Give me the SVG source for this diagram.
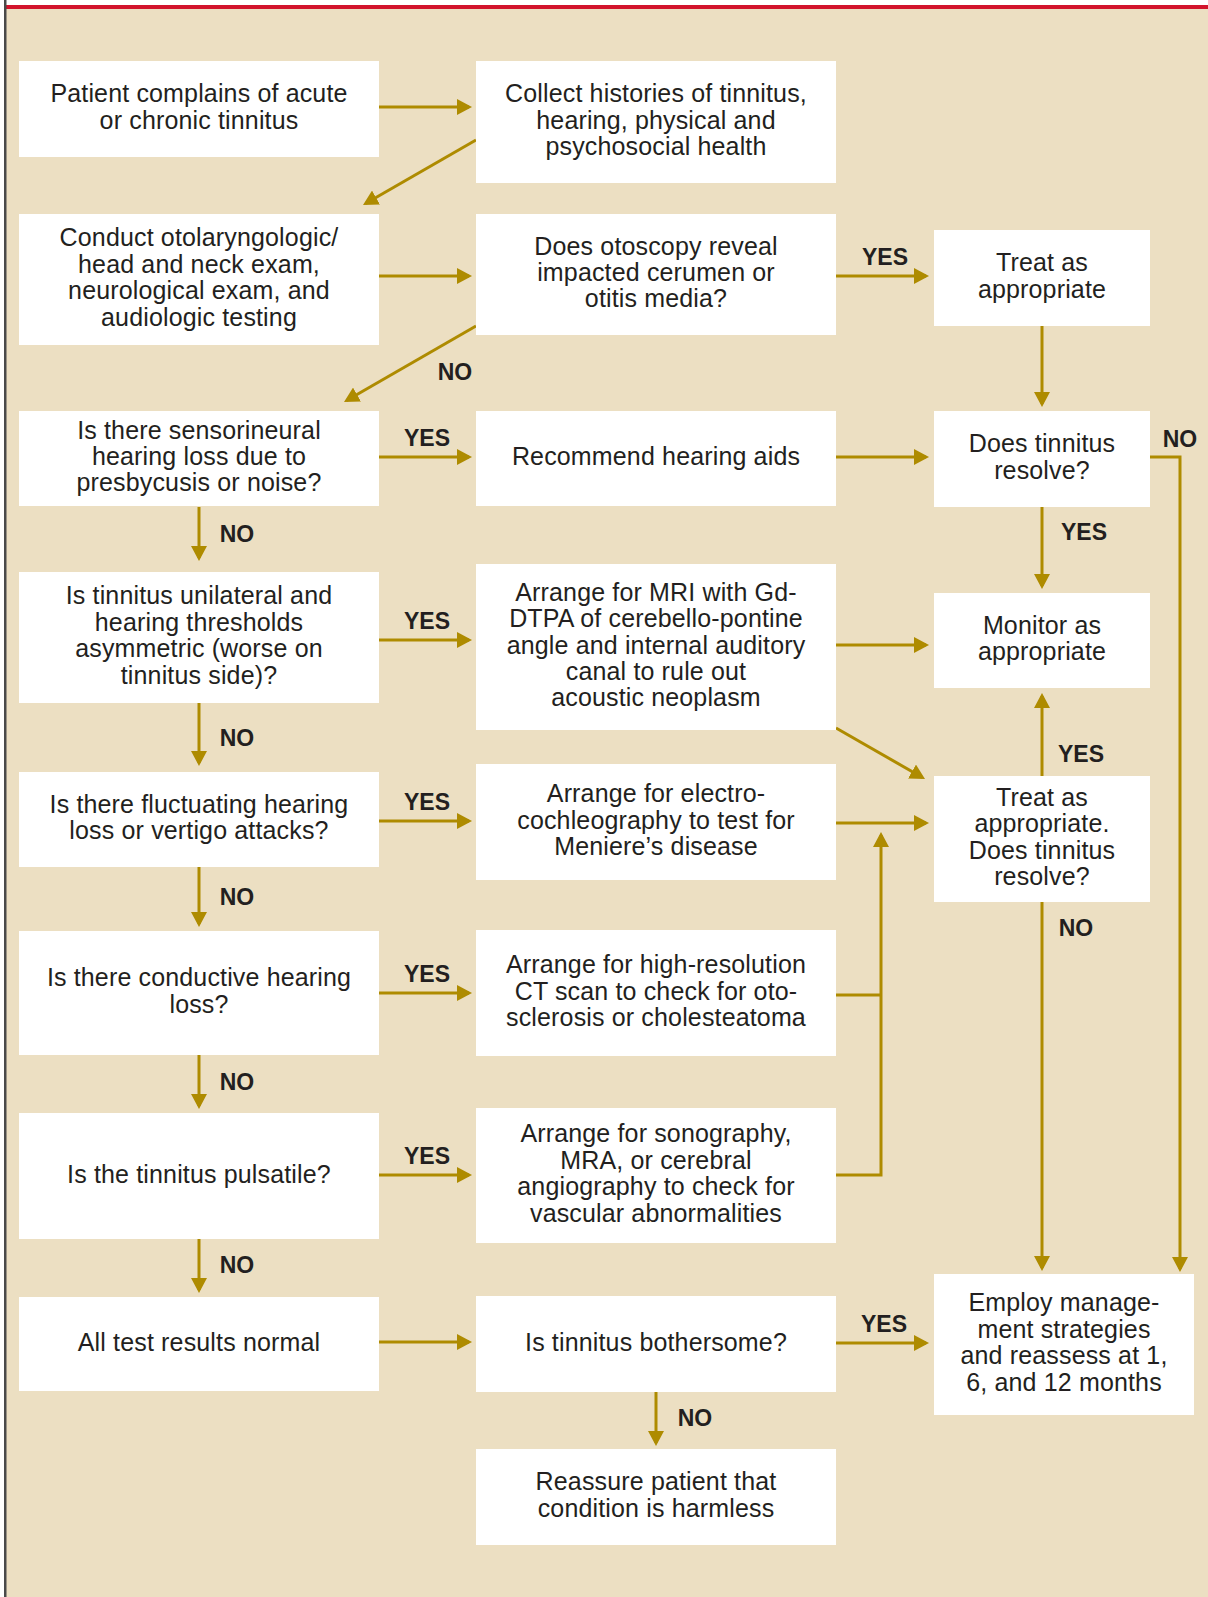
<svg xmlns="http://www.w3.org/2000/svg" width="1208" height="1597" viewBox="0 0 1208 1597">
<defs>
<style>
.bg{fill:#ecdfc2}
.box{fill:#ffffff}
.t{font-family:"Liberation Sans",Arial,Helvetica,sans-serif;font-size:25px;letter-spacing:0.15px;fill:#231f20;text-anchor:middle}
.lb{font-family:"Liberation Sans",Arial,Helvetica,sans-serif;font-size:23px;font-weight:bold;fill:#231f20;text-anchor:middle}
.c{fill:none;stroke:#ae8b00;stroke-width:3;marker-end:url(#ah)}
.cn{fill:none;stroke:#ae8b00;stroke-width:3}
</style>
<marker id="ah" markerUnits="userSpaceOnUse" markerWidth="16" markerHeight="16" refX="12" refY="8" orient="auto" viewBox="0 0 16 16">
<path d="M0,0 L15,8 L0,16 z" fill="#ae8b00"/>
</marker>
</defs>
<rect x="0" y="0" width="1208" height="1597" fill="#ffffff"/>
<rect class="bg" x="6" y="9" width="1202" height="1588"/>
<rect x="6" y="5" width="1202" height="4" fill="#d2142c"/>
<rect x="4" y="0" width="2.5" height="1597" fill="#4a4a4a"/>

<g id="connectors">
<line class="c" x1="379" y1="107" x2="469" y2="107"/>
<line class="c" x1="476" y1="140" x2="365.6" y2="203.5"/>
<line class="c" x1="379" y1="276" x2="469" y2="276"/>
<line class="c" x1="836" y1="276" x2="926" y2="276"/>
<line class="c" x1="1042" y1="326" x2="1042" y2="404"/>
<line class="c" x1="476" y1="326" x2="346.6" y2="400.5"/>
<line class="c" x1="379" y1="457" x2="469" y2="457"/>
<line class="c" x1="836" y1="457" x2="926" y2="457"/>
<polyline class="c" points="1150,457 1180,457 1180,1269"/>
<line class="c" x1="1042" y1="507" x2="1042" y2="586"/>
<line class="c" x1="199" y1="507" x2="199" y2="558"/>
<line class="c" x1="379" y1="640" x2="469" y2="640"/>
<line class="c" x1="836" y1="645" x2="926" y2="645"/>
<line class="c" x1="199" y1="703" x2="199" y2="763"/>
<line class="c" x1="836" y1="728" x2="922.4" y2="777.5"/>
<line class="c" x1="1042" y1="776" x2="1042" y2="696"/>
<line class="c" x1="379" y1="821" x2="469" y2="821"/>
<line class="c" x1="836" y1="823" x2="926" y2="823"/>
<line class="c" x1="199" y1="867" x2="199" y2="924"/>
<line class="c" x1="1042" y1="902" x2="1042" y2="1268"/>
<line class="c" x1="379" y1="993" x2="469" y2="993"/>
<line class="cn" x1="836" y1="995" x2="881" y2="995"/>
<polyline class="c" points="836,1175 881,1175 881,835"/>
<line class="c" x1="199" y1="1055" x2="199" y2="1106"/>
<line class="c" x1="379" y1="1175" x2="469" y2="1175"/>
<line class="c" x1="199" y1="1239" x2="199" y2="1290"/>
<line class="c" x1="379" y1="1342" x2="469" y2="1342"/>
<line class="c" x1="836" y1="1343" x2="926" y2="1343"/>
<line class="c" x1="656" y1="1392" x2="656" y2="1443"/>
<text class="lb" x="885" y="265">YES</text>
<text class="lb" x="455" y="380">NO</text>
<text class="lb" x="427" y="446">YES</text>
<text class="lb" x="1180" y="447">NO</text>
<text class="lb" x="1084" y="540">YES</text>
<text class="lb" x="237" y="542">NO</text>
<text class="lb" x="427" y="629">YES</text>
<text class="lb" x="237" y="746">NO</text>
<text class="lb" x="1081" y="762">YES</text>
<text class="lb" x="427" y="810">YES</text>
<text class="lb" x="237" y="905">NO</text>
<text class="lb" x="1076" y="936">NO</text>
<text class="lb" x="427" y="982">YES</text>
<text class="lb" x="237" y="1090">NO</text>
<text class="lb" x="427" y="1164">YES</text>
<text class="lb" x="237" y="1273">NO</text>
<text class="lb" x="884" y="1332">YES</text>
<text class="lb" x="695" y="1426">NO</text>
</g>

<g id="n1"><rect class="box" x="19" y="61" width="360" height="96"/><text class="t" x="199"><tspan x="199" y="102.3">Patient complains of acute</tspan><tspan x="199" y="128.7">or chronic tinnitus</tspan></text></g>
<g id="n2"><rect class="box" x="476" y="61" width="360" height="122"/><text class="t" x="656"><tspan x="656" y="102.1">Collect histories of tinnitus,</tspan><tspan x="656" y="128.5">hearing, physical and</tspan><tspan x="656" y="154.9">psychosocial health</tspan></text></g>
<g id="n3"><rect class="box" x="19" y="214" width="360" height="131"/><text class="t" x="199"><tspan x="199" y="246.4">Conduct otolaryngologic/</tspan><tspan x="199" y="272.8">head and neck exam,</tspan><tspan x="199" y="299.2">neurological exam, and</tspan><tspan x="199" y="325.6">audiologic testing</tspan></text></g>
<g id="n4"><rect class="box" x="476" y="214" width="360" height="121"/><text class="t" x="656"><tspan x="656" y="254.6">Does otoscopy reveal</tspan><tspan x="656" y="281">impacted cerumen or</tspan><tspan x="656" y="307.4">otitis media?</tspan></text></g>
<g id="n5"><rect class="box" x="934" y="230" width="216" height="96"/><text class="t" x="1042"><tspan x="1042" y="271.3">Treat as</tspan><tspan x="1042" y="297.7">appropriate</tspan></text></g>
<g id="n6"><rect class="box" x="19" y="411" width="360" height="95"/><text class="t" x="199"><tspan x="199" y="438.6">Is there sensorineural</tspan><tspan x="199" y="465">hearing loss due to</tspan><tspan x="199" y="491.4">presbycusis or noise?</tspan></text></g>
<g id="n7"><rect class="box" x="476" y="411" width="360" height="95"/><text class="t" x="656" y="465">Recommend hearing aids</text></g>
<g id="n8"><rect class="box" x="934" y="411" width="216" height="96"/><text class="t" x="1042"><tspan x="1042" y="452.3">Does tinnitus</tspan><tspan x="1042" y="478.7">resolve?</tspan></text></g>
<g id="n9"><rect class="box" x="19" y="572" width="360" height="131"/><text class="t" x="199"><tspan x="199" y="604.4">Is tinnitus unilateral and</tspan><tspan x="199" y="630.8">hearing thresholds</tspan><tspan x="199" y="657.2">asymmetric (worse on</tspan><tspan x="199" y="683.6">tinnitus side)?</tspan></text></g>
<g id="n10"><rect class="box" x="476" y="564" width="360" height="166"/><text class="t" x="656"><tspan x="656" y="600.7">Arrange for MRI with Gd-</tspan><tspan x="656" y="627.1">DTPA of cerebello-pontine</tspan><tspan x="656" y="653.5">angle and internal auditory</tspan><tspan x="656" y="679.9">canal to rule out</tspan><tspan x="656" y="706.3">acoustic neoplasm</tspan></text></g>
<g id="n11"><rect class="box" x="934" y="593" width="216" height="95"/><text class="t" x="1042"><tspan x="1042" y="633.8">Monitor as</tspan><tspan x="1042" y="660.2">appropriate</tspan></text></g>
<g id="n12"><rect class="box" x="19" y="772" width="360" height="95"/><text class="t" x="199"><tspan x="199" y="812.8">Is there fluctuating hearing</tspan><tspan x="199" y="839.2">loss or vertigo attacks?</tspan></text></g>
<g id="n13"><rect class="box" x="476" y="764" width="360" height="116"/><text class="t" x="656"><tspan x="656" y="802.1">Arrange for electro-</tspan><tspan x="656" y="828.5">cochleography to test for</tspan><tspan x="656" y="854.9">Meniere’s disease</tspan></text></g>
<g id="n14"><rect class="box" x="934" y="776" width="216" height="126"/><text class="t" x="1042"><tspan x="1042" y="806">Treat as</tspan><tspan x="1042" y="832.4">appropriate.</tspan><tspan x="1042" y="858.8">Does tinnitus</tspan><tspan x="1042" y="885.2">resolve?</tspan></text></g>
<g id="n15"><rect class="box" x="19" y="931" width="360" height="124"/><text class="t" x="199"><tspan x="199" y="986.3">Is there conductive hearing</tspan><tspan x="199" y="1012.7">loss?</tspan></text></g>
<g id="n16"><rect class="box" x="476" y="930" width="360" height="126"/><text class="t" x="656"><tspan x="656" y="973.1">Arrange for high-resolution</tspan><tspan x="656" y="999.5">CT scan to check for oto-</tspan><tspan x="656" y="1025.9">sclerosis or cholesteatoma</tspan></text></g>
<g id="n17"><rect class="box" x="19" y="1113" width="360" height="126"/><text class="t" x="199" y="1182.5">Is the tinnitus pulsatile?</text></g>
<g id="n18"><rect class="box" x="476" y="1108" width="360" height="135"/><text class="t" x="656"><tspan x="656" y="1142.4">Arrange for sonography,</tspan><tspan x="656" y="1168.8">MRA, or cerebral</tspan><tspan x="656" y="1195.2">angiography to check for</tspan><tspan x="656" y="1221.6">vascular abnormalities</tspan></text></g>
<g id="n19"><rect class="box" x="19" y="1297" width="360" height="94"/><text class="t" x="199" y="1350.5">All test results normal</text></g>
<g id="n20"><rect class="box" x="476" y="1296" width="360" height="96"/><text class="t" x="656" y="1350.5">Is tinnitus bothersome?</text></g>
<g id="n21"><rect class="box" x="934" y="1274" width="260" height="141"/><text class="t" x="1064"><tspan x="1064" y="1311.4">Employ manage-</tspan><tspan x="1064" y="1337.8">ment strategies</tspan><tspan x="1064" y="1364.2">and reassess at 1,</tspan><tspan x="1064" y="1390.6">6, and 12 months</tspan></text></g>
<g id="n22"><rect class="box" x="476" y="1449" width="360" height="96"/><text class="t" x="656"><tspan x="656" y="1490.3">Reassure patient that</tspan><tspan x="656" y="1516.7">condition is harmless</tspan></text></g>
</svg>
